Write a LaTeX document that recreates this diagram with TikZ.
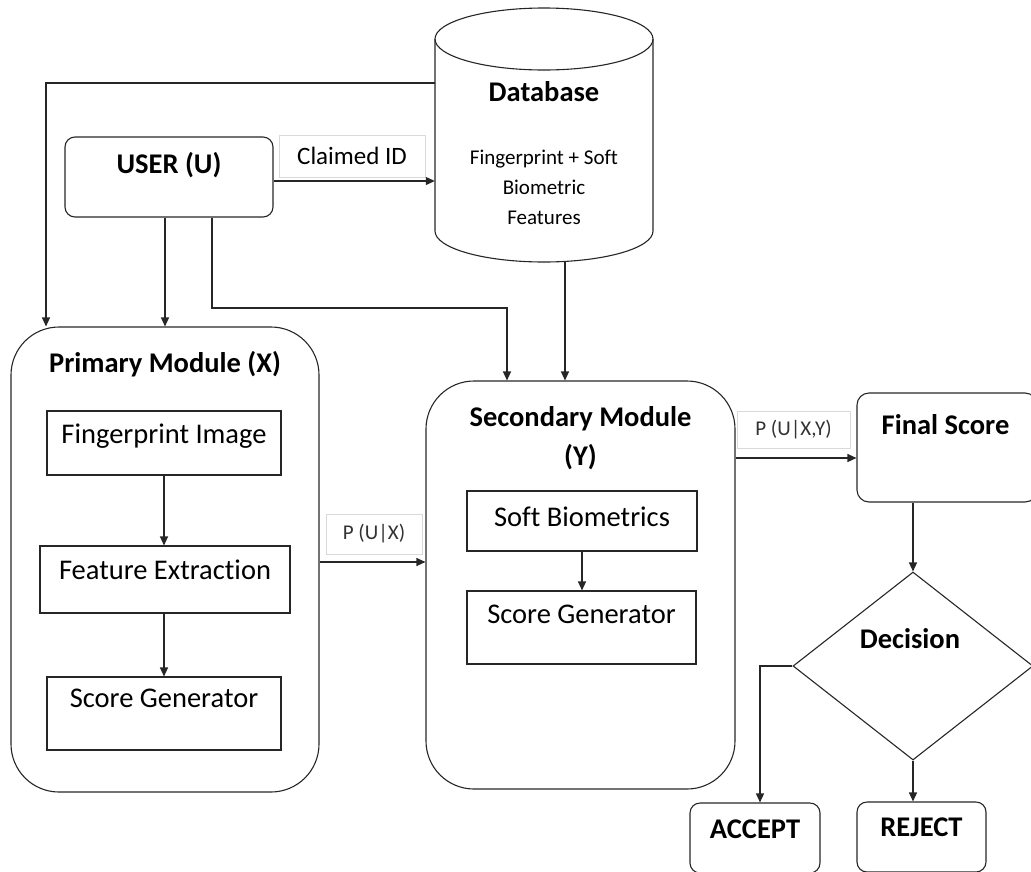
\documentclass[tikz,border=0pt]{standalone}
\usepackage{fontspec}
\setmainfont{Carlito}[Ligatures=NoCommon]
\usetikzlibrary{arrows.meta,shapes.geometric,calc}

\tikzset{
  ln/.style={draw=black!85, line width=1.1pt},
  arr/.style={ln, -{Triangle[length=9pt,width=8pt]}},
  box/.style={ln, rectangle, inner sep=0pt, minimum width=#1},
  rbox/.style={box=#1, rounded corners=10pt},
  tag/.style={draw=black!15, line width=0.8pt, inner sep=0pt, fill=white},
  bigfont/.style={font=\fontsize{28.5}{33}\selectfont\bfseries},
  midfont/.style={font=\fontsize{28.5}{33}\selectfont},
  smallfont/.style={font=\fontsize{21}{30}\selectfont},
  tagfont/.style={font=\fontsize{21}{25}\selectfont, text=black!80},
}

\begin{document}
\begin{tikzpicture}[x=1pt,y=-1pt]
\useasboundingbox (0,0) rectangle (1031,871);

% ---- database cylinder ----
\draw[ln] (435,39) -- (435,231) arc[start angle=180, end angle=0, x radius=109, y radius=31] -- (653,39);
\draw[ln] (544,39) ellipse[x radius=109, y radius=31];
\node[minimum width=218pt, minimum height=254pt, inner sep=0pt] (db) at (544,135) {};
\node[bigfont] (dbT) at (544,92) {Database};
\node[smallfont, align=center] (dbB) at (544,187) {Fingerprint + Soft\\Biometric\\Features};

% ---- user and claimed id ----
\node[rbox=208pt, minimum height=80pt,
      label={[bigfont, anchor=center, yshift=-29pt]north:USER (U)}] (user) at (169,177) {};
\node[tag, minimum width=146pt, minimum height=42pt, font=\fontsize{25}{30}\selectfont] (cid) at (352,156) {Claimed ID};

% ---- primary module ----
\node[box=308pt, minimum height=465pt, rounded corners=48pt,
      label={[bigfont, anchor=center, yshift=-38pt]north:Primary Module (X)}] (primary) at (165,559.5) {};
\node[box=234pt, minimum height=64pt,
      label={[midfont, anchor=center, yshift=-26pt]north:Fingerprint Image}] (fpimg) at (164,443) {};
\node[box=250pt, minimum height=67pt,
      label={[midfont, anchor=center, yshift=-24pt]north:Feature Extraction}] (featx) at (165,579.5) {};
\node[box=234pt, minimum height=73pt,
      label={[midfont, anchor=center, yshift=-22pt]north:Score Generator}] (scorex) at (164,713.5) {};

% ---- secondary module ----
\node[box=309pt, minimum height=408pt, rounded corners=48pt,
      label={[bigfont, anchor=center, align=center, yshift=-57.5pt]north:Secondary Module\\[6pt](Y)}] (secondary) at (580.5,585) {};
\node[box=230pt, minimum height=60pt,
      label={[midfont, anchor=center, yshift=-26pt]north:Soft Biometrics}] (soft) at (582,521) {};
\node[box=229pt, minimum height=73pt,
      label={[midfont, anchor=center, yshift=-24pt]north:Score Generator}] (scorey) at (581.5,627.5) {};

% ---- probability tags ----
\node[tag, minimum width=96pt, minimum height=40pt, tagfont] (pux) at (374,534) {P (U|X)};
\node[tag, minimum width=113pt, minimum height=37pt, tagfont] (puxy) at (793.5,429.5) {P (U|X,Y)};

% ---- final score, decision, outcomes ----
\node[box=180pt, minimum height=109pt, rounded corners=12pt,
      label={[bigfont, anchor=center, xshift=-1.5pt, yshift=-32pt]north:Final Score}] (final) at (947,447.5) {};
\node[ln, diamond, inner sep=0pt, minimum width=240pt, minimum height=188pt,
      label={[bigfont, anchor=center, xshift=-3pt, yshift=-67pt]north:Decision}] (dec) at (913,666) {};
\node[rbox=130pt, minimum height=70pt,
      label={[bigfont, anchor=center, yshift=-27pt]north:ACCEPT}] (accept) at (755,838) {};
\node[rbox=129pt, minimum height=70pt,
      label={[bigfont, anchor=center, yshift=-26pt]north:REJECT}] (reject) at (921.5,837) {};

% ---- connectors ----
\coordinate (lt) at (46,83);
\draw[arr] (db.west |- lt) -- (lt) -- (lt |- primary.north);
\draw[arr] (user.south -| primary.north) -- (primary.north);
\coordinate (ub) at (212,308);
\coordinate (sy) at (507,308);
\draw[arr] (user.south -| ub) -- (ub) -- (sy) -- (sy |- secondary.north);
\draw[arr] ([xshift=21pt]db.south) -- ([xshift=21pt]db.south |- secondary.north);
\draw[arr] ([yshift=-4pt]user.east) -- ([yshift=-4pt]user.east -| db.west);

\draw[arr] (fpimg.south) -- (fpimg.south |- featx.north);
\draw[arr] (featx.south -| fpimg.south) -- (fpimg.south |- scorex.north);
\draw[arr] ([yshift=-2.5pt]primary.east) -- ([yshift=-2.5pt]primary.east -| secondary.west);
\draw[arr] (soft.south) -- (soft.south |- scorey.north);

\draw[arr] ([yshift=-10.5pt]final.west -| secondary.east) -- ([yshift=-10.5pt]final.west);
\draw[arr] (dec.north |- final.south) -- (dec.north);
\draw[arr] (dec.west) -| ([xshift=5pt]accept.north);
\draw[arr] (dec.south) -- (dec.south |- reject.north);
\end{tikzpicture}
\end{document}
